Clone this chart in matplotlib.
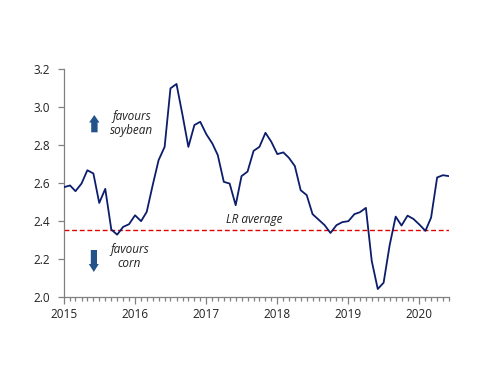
import matplotlib
matplotlib.use("Agg")
import matplotlib.pyplot as plt
import matplotlib.dates as mdates
from matplotlib.patches import Polygon
import pandas as pd

# soybean / corn price ratio, monthly from Jan 2015
start = "2015-01-01"
ratio = [2.578, 2.587, 2.557, 2.597, 2.667, 2.650, 2.495, 2.569, 2.355, 2.328,
         2.369, 2.383, 2.430, 2.399, 2.448, 2.590, 2.720, 2.790, 3.098, 3.121,
         2.957, 2.790, 2.905, 2.922, 2.857, 2.808, 2.747, 2.606, 2.597, 2.483,
         2.636, 2.660, 2.769, 2.790, 2.864, 2.817, 2.752, 2.761, 2.733, 2.689,
         2.562, 2.536, 2.436, 2.407, 2.378, 2.337, 2.378, 2.394, 2.399, 2.436,
         2.446, 2.469, 2.190, 2.042, 2.075, 2.272, 2.423, 2.376, 2.428, 2.411,
         2.381, 2.348, 2.418, 2.629, 2.641, 2.636]
lr_average = 2.35
yticks = [2.0, 2.2, 2.4, 2.6, 2.8, 3.0, 3.2]

dates = pd.date_range(start, periods=len(ratio), freq="MS")

W, H = 500, 386
plt.rcParams['font.family'] = ['Open Sans', 'DejaVu Sans']
fig = plt.figure(figsize=(W / 100, H / 100), dpi=100)
ax = fig.add_axes([0.128, 0.2306, 0.77, 0.5907])

ax.plot(dates, ratio, color="#0b1d6b", lw=1.3, zorder=3)
ax.axhline(lr_average, color="#e00000", lw=1.0, ls=(0, (3.5, 2)), zorder=2)

ax.set_xlim(dates[0], dates[-1])
ax.set_ylim(2.0, 3.2)
ax.set_yticks(yticks)
ax.set_yticklabels(["%.1f" % t for t in yticks])

ax.xaxis.set_major_locator(mdates.YearLocator())
ax.xaxis.set_major_formatter(mdates.DateFormatter("%Y"))
ax.xaxis.set_minor_locator(mdates.MonthLocator())

for s in ["top", "right"]:
    ax.spines[s].set_visible(False)
for s in ["left", "bottom"]:
    ax.spines[s].set_color("#808080")
    ax.spines[s].set_linewidth(0.9)

ax.tick_params(axis="both", which="major", colors="#808080", labelcolor="#222222",
               labelsize=8.5, length=4, width=0.9)
ax.tick_params(axis="x", which="major", length=5, pad=3)
ax.tick_params(axis="x", which="minor", colors="#808080", length=3, width=0.9)
ax.tick_params(axis="y", pad=6)


def px(points):
    # pixel coords (origin top-left) -> figure fraction
    return [(x / W, 1 - y / H) for x, y in points]


arrow_col = "#24538a"
up = [(94.3, 115), (99.5, 122.5), (97.6, 122.5), (97.6, 132.3),
      (91.2, 132.3), (91.2, 122.5), (89.1, 122.5)]
down = [(93.8, 272), (98.8, 264), (97.0, 264), (97.0, 250),
        (90.8, 250), (90.8, 264), (88.8, 264)]
for pts in (up, down):
    fig.patches.append(Polygon(px(pts), closed=True, transform=fig.transFigure,
                               facecolor=arrow_col, edgecolor="none"))

ax.text(0.175, 0.760, "favours\nsoybean", transform=ax.transAxes, ha="center",
        va="center", style="italic", fontsize=8.5, color="#222222", linespacing=1.15)
ax.text(0.170, 0.177, "favours\ncorn", transform=ax.transAxes, ha="center",
        va="center", style="italic", fontsize=8.5, color="#222222", linespacing=1.15)
ax.text(0.495, 0.339, "LR average", transform=ax.transAxes, ha="center",
        va="center", style="italic", fontsize=8.5, color="#222222")

fig.savefig("out.png", dpi=100)
